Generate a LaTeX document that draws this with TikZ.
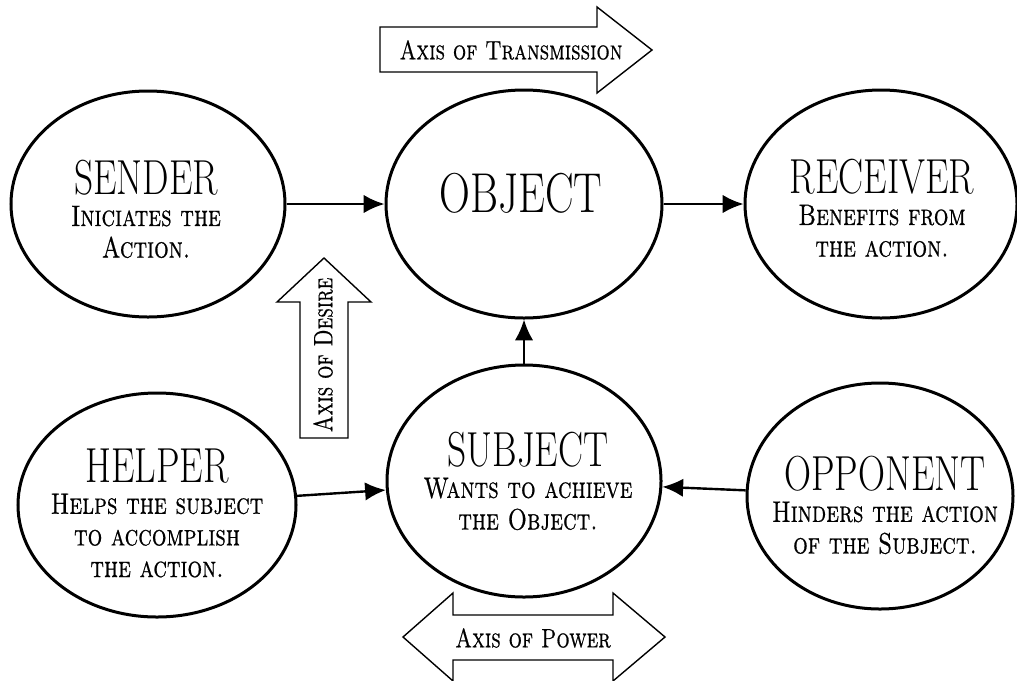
\documentclass[tikz,border=0pt]{standalone}
\usepackage{fontspec}
\usetikzlibrary{shapes.geometric,arrows.meta}
\newfontfamily\titlefont{lmroman17-regular.otf}[FakeStretch=0.76]
\newfontfamily\capsfont{lmromancaps10-regular.otf}[FakeStretch=0.78,FakeBold=0.6]

\begin{document}
\begin{tikzpicture}[x=0.25mm,y=-0.25mm,
  actant/.style={draw,ellipse,line width=0.75mm,inner sep=0pt},
  actlabel/.style={align=center,inner sep=0pt,font=\fontsize{21}{22.5}\capsfont},
  axislabel/.style={inner sep=0pt,font=\fontsize{19}{22}\capsfont},
  conn/.style={line width=0.6mm,-{Latex[length=5.2mm,width=4.6mm]}},
  axis/.style={draw,line width=0.35mm,line join=miter}]
  \useasboundingbox (0,0) rectangle (1017,680);
  \node[actant,minimum width=68.5mm,minimum height=56.5mm] (sender) at (148,204) {};
  \node[actant,minimum width=69mm,minimum height=57mm] (object) at (524,204) {};
  \node[actant,minimum width=68mm,minimum height=57mm] (receiver) at (881,204) {};
  \node[actant,minimum width=69.5mm,minimum height=56mm] (helper) at (157,505) {};
  \node[actant,minimum width=68.5mm,minimum height=58mm] (subject) at (524,481) {};
  \node[actant,minimum width=66.5mm,minimum height=56.5mm] (opponent) at (880,496) {};
  \node[actlabel] (sendertext) at (146,209) {{\fontsize{35}{35}\titlefont SENDER}\\Iniciates the\\Action.};
  \node[actlabel] (objecttext) at (521,193) {{\fontsize{40}{40}\titlefont OBJECT}};
  \node[actlabel] (receivertext) at (882,208) {{\fontsize{35}{35}\titlefont RECEIVER}\\Benefits from\\the action.};
  \node[actlabel] (helpertext) at (157,513) {{\fontsize{35}{35}\titlefont HELPER}\\Helps the subject\\to accomplish\\the action.};
  \node[actlabel] (subjecttext) at (528,481) {{\fontsize{35}{35}\titlefont SUBJECT}\\Wants to achieve\\the Object.};
  \node[actlabel] (opponenttext) at (885,505) {{\fontsize{35}{35}\titlefont OPPONENT}\\Hinders the action\\of the Subject.};
  \draw[conn] (sender.east) -- (object.west);
  \draw[conn] (object.east) -- (receiver.west);
  \draw[conn] (subject.north) -- (object.south);
  \draw[conn] (helper) -- (subject);
  \draw[conn] (opponent) -- (subject);
  \draw[axis] (380,27) -- (597,27) -- (597,7) -- (652,50) -- (597,93) -- (597,72) -- (380,72) -- cycle;
  \node[axislabel] (transmission) at (511,50) {Axis of Transmission};
  \draw[axis] (300,438) -- (300,302) -- (277,302) -- (324,258) -- (371,302) -- (348,302) -- (348,438) -- cycle;
  \node[axislabel,rotate=90] (desire) at (323,355) {Axis of Desire};
  \draw[axis] (403,637) -- (453,593) -- (453,615) -- (613,615) -- (613,593) -- (665,637) -- (613,681) -- (613,660) -- (453,660) -- (453,681) -- cycle;
  \node[axislabel] (power) at (533,638) {Axis of Power};
\end{tikzpicture}
\end{document}
